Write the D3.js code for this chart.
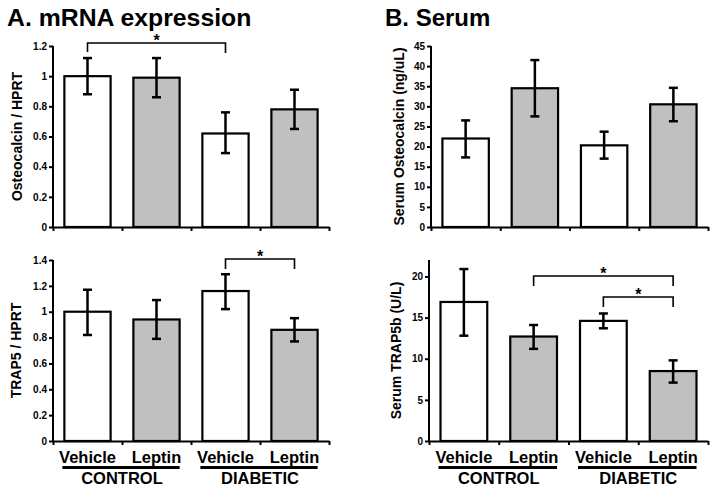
<!DOCTYPE html>
<html><head><meta charset="utf-8">
<script src="https://cdn.jsdelivr.net/npm/d3@7"></script>
<style>
html,body{margin:0;padding:0;background:#fff;}
svg{display:block;font-family:"Liberation Sans",Arial,sans-serif;font-weight:bold;}
</style></head>
<body>
<svg id="chart" width="716" height="492"></svg>
<script>
// ---- data ----
const categories = ["CV", "CL", "DV", "DL"];
const treatments = ["Vehicle", "Leptin", "Vehicle", "Leptin"];
const groups = ["CONTROL", "DIABETIC"];
const fills = ["#ffffff", "#c0c0c0", "#ffffff", "#c0c0c0"];

const ocMean = [1.0, 0.99, 0.62, 0.78];
const ocLow = [0.88, 0.86, 0.49, 0.65];
const ocHigh = [1.12, 1.12, 0.76, 0.91];

const trapMean = [1.0, 0.94, 1.16, 0.86];
const trapLow = [0.82, 0.79, 1.02, 0.77];
const trapHigh = [1.17, 1.09, 1.29, 0.95];

const sOcMean = [22.0, 34.5, 20.3, 30.5];
const sOcLow = [17.3, 27.5, 17.0, 26.3];
const sOcHigh = [26.5, 41.5, 23.7, 34.6];

const sTrapMean = [16.9, 12.7, 14.6, 8.5];
const sTrapLow = [12.8, 11.2, 13.7, 7.1];
const sTrapHigh = [20.9, 14.1, 15.5, 9.8];

const ticksOc = [0, 0.2, 0.4, 0.6, 0.8, 1.0, 1.2];
const ticksTrap = [0, 0.2, 0.4, 0.6, 0.8, 1.0, 1.2, 1.4];
const ticksSOc = [0, 5, 10, 15, 20, 25, 30, 35, 40, 45];
const ticksSTrap = [0, 5, 10, 15, 20];

const svg = d3.select("#chart");

function panel(o) {
  const g = svg.append("g");
  const y = d3.scaleLinear().domain(o.domain).range([o.yb, o.yt]);
  const x = d3.scaleBand().domain(categories).range([o.x0, o.x1]).paddingInner(0.33).paddingOuter(0.165);
  const xb = d3.scaleLinear().domain([0, 4]).range([o.x0, o.x1]);

  // bars
  g.selectAll("rect.bar").data(categories).join("rect")
    .attr("x", d => x(d)).attr("width", x.bandwidth())
    .attr("y", (d, i) => y(o.mean[i])).attr("height", (d, i) => y(0) - y(o.mean[i]))
    .attr("fill", (d, i) => fills[i]).attr("stroke", "#000").attr("stroke-width", 2.2);

  // error bars
  const cx = d => x(d) + x.bandwidth() / 2;
  const eb = g.append("g").attr("stroke", "#000").attr("stroke-width", 2.5);
  categories.forEach((c, i) => {
    eb.append("line").attr("x1", cx(c)).attr("x2", cx(c)).attr("y1", y(o.lo[i])).attr("y2", y(o.hi[i]));
    eb.append("line").attr("x1", cx(c) - 4.5).attr("x2", cx(c) + 4.5).attr("y1", y(o.lo[i])).attr("y2", y(o.lo[i]));
    eb.append("line").attr("x1", cx(c) - 4.5).attr("x2", cx(c) + 4.5).attr("y1", y(o.hi[i])).attr("y2", y(o.hi[i]));
  });

  // y axis
  const ya = g.append("g").attr("transform", `translate(${o.x0},0)`)
    .call(d3.axisLeft(y).tickValues(o.ticks).tickSize(4).tickSizeOuter(0).tickFormat(d => d3.format("")(+d.toFixed(1))));
  ya.select(".domain").attr("stroke-width", 2).attr("d", `M0,${y(0)}V${o.yt}`);
  ya.selectAll(".tick line").attr("stroke-width", 2);
  ya.selectAll(".tick text").attr("font-size", 10).attr("font-weight", "bold").attr("font-family", "Liberation Sans, Arial").attr("x", -6);

  // x axis
  const xa = g.append("g").attr("transform", `translate(0,${y(0)})`)
    .call(d3.axisBottom(xb).tickValues([0, 1, 2, 3, 4]).tickSize(4).tickSizeOuter(0).tickFormat(""));
  xa.select(".domain").attr("stroke-width", 2);
  xa.selectAll(".tick line").attr("stroke-width", 2);

  // y title
  g.append("text").attr("transform", `translate(${o.ytx},${(o.yt + o.yb) / 2}) rotate(-90)`)
    .attr("text-anchor", "middle").attr("font-size", 14).text(o.ytitle);

  // significance brackets
  (o.brackets || []).forEach(b => {
    const xa1 = cx(categories[b.from]), xa2 = cx(categories[b.to]);
    g.append("path").attr("fill", "none").attr("stroke", "#000").attr("stroke-width", 1.6)
      .attr("d", `M${xa1},${b.y + b.dl}V${b.y}H${xa2}V${b.y + b.dr}`);
    g.append("text").attr("x", (xa1 + xa2) / 2).attr("y", b.y + 3).attr("text-anchor", "middle")
      .attr("font-size", 16).text("*");
  });

  // x labels
  if (o.xlabels) {
    categories.forEach((c, i) => {
      g.append("text").attr("x", cx(c)).attr("y", 463).attr("text-anchor", "middle").attr("font-size", 16.5).text(treatments[i]);
    });
    groups.forEach((gr, k) => {
      const a = categories[2 * k], b = categories[2 * k + 1];
      g.append("rect").attr("x", x(a) - 2).attr("width", x(b) + x.bandwidth() - x(a) + 2)
        .attr("y", 466).attr("height", 3).attr("fill", "#000");
      g.append("text").attr("x", (cx(a) + cx(b)) / 2).attr("y", 484).attr("text-anchor", "middle").attr("font-size", 16.5).text(gr);
    });
  }
}

panel({x0: 53, x1: 329, yt: 46, yb: 227, domain: [0, 1.2], ticks: ticksOc, mean: ocMean, lo: ocLow, hi: ocHigh,
  ytx: 22, ytitle: "Osteocalcin / HPRT", brackets: [{from: 0, to: 2, y: 43, dl: 9, dr: 10}]});
panel({x0: 53, x1: 329, yt: 260, yb: 441, domain: [0, 1.4], ticks: ticksTrap, mean: trapMean, lo: trapLow, hi: trapHigh,
  ytx: 21, ytitle: "TRAP5 / HPRT", brackets: [{from: 2, to: 3, y: 259, dl: 10, dr: 10}], xlabels: true});
panel({x0: 431, x1: 708, yt: 46, yb: 227, domain: [0, 45], ticks: ticksSOc, mean: sOcMean, lo: sOcLow, hi: sOcHigh,
  ytx: 404, ytitle: "Serum Osteocalcin (ng/uL)"});
panel({x0: 429, x1: 708, yt: 260, yb: 441, domain: [0, 22], ticks: ticksSTrap, mean: sTrapMean, lo: sTrapLow, hi: sTrapHigh,
  ytx: 401, ytitle: "Serum TRAP5b (U/L)",
  brackets: [{from: 1, to: 3, y: 276, dl: 10, dr: 10}, {from: 2, to: 3, y: 297, dl: 10, dr: 10}], xlabels: true});

// panel titles
svg.append("text").attr("x", 7).attr("y", 26).attr("font-size", 24.8).text("A. mRNA expression");
svg.append("text").attr("x", 385).attr("y", 26).attr("font-size", 24).text("B. Serum");
</script>
</body></html>
